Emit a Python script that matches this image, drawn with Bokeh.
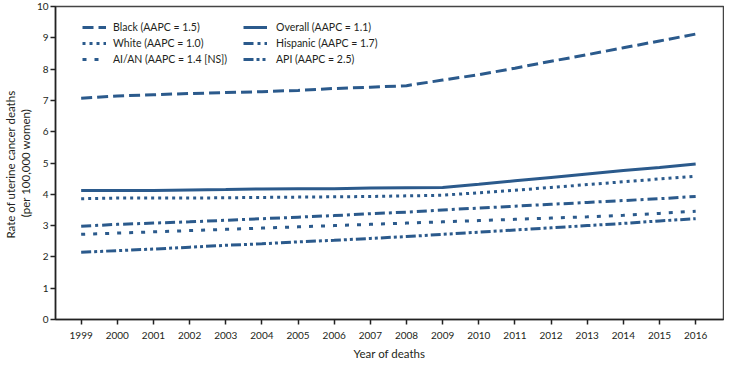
from bokeh.plotting import figure
from bokeh.models import Legend, LegendItem, Range1d, FixedTicker
from bokeh.embed import file_html
from bokeh.resources import INLINE

years = list(range(1999, 2017))
black = [7.07, 7.14, 7.18, 7.22, 7.25, 7.28, 7.32, 7.38, 7.42, 7.47, 7.65, 7.82, 8.03, 8.25, 8.46, 8.68, 8.90, 9.12]
overall = [4.12, 4.12, 4.12, 4.14, 4.15, 4.17, 4.18, 4.18, 4.20, 4.21, 4.22, 4.32, 4.43, 4.54, 4.65, 4.76, 4.86, 4.97]
white = [3.86, 3.88, 3.88, 3.88, 3.89, 3.90, 3.91, 3.92, 3.93, 3.95, 3.97, 4.05, 4.13, 4.22, 4.31, 4.40, 4.49, 4.58]
hispanic = [2.98, 3.04, 3.08, 3.12, 3.17, 3.22, 3.27, 3.32, 3.38, 3.43, 3.50, 3.56, 3.62, 3.68, 3.74, 3.80, 3.86, 3.93]
aian = [2.72, 2.76, 2.80, 2.84, 2.88, 2.92, 2.96, 3.00, 3.04, 3.08, 3.12, 3.16, 3.20, 3.24, 3.28, 3.33, 3.39, 3.46]
api = [2.15, 2.20, 2.25, 2.31, 2.37, 2.42, 2.48, 2.53, 2.59, 2.65, 2.72, 2.79, 2.86, 2.93, 3.00, 3.07, 3.15, 3.22]

labels_col1 = ["Black (AAPC = 1.5)", "White (AAPC = 1.0)", "AI/AN (AAPC = 1.4 [NS])"]
labels_col2 = ["Overall (AAPC = 1.1)", "Hispanic (AAPC = 1.7)", "API (AAPC = 2.5)"]

COLOR = "#2b5a8c"
FONT = "Lato"
TXT = "#231f20"

p = figure(width=724, height=362, output_backend="svg", toolbar_location=None,
           x_range=Range1d(1998.29, 2016.77), y_range=Range1d(0, 10),
           min_border_left=47, min_border_right=1, min_border_top=6, min_border_bottom=43)
p.xgrid.visible = False
p.ygrid.visible = False
p.outline_line_color = "#444444"
p.outline_line_width = 1.5
p.background_fill_color = "white"

for ax in (p.xaxis[0], p.yaxis[0]):
    ax.axis_line_color = "#222222"
    ax.axis_line_width = 1.5
    ax.major_tick_line_color = "#222222"
    ax.major_tick_line_width = 1.5
    ax.major_tick_out = 5
    ax.major_tick_in = 0
    ax.minor_tick_line_color = None
    ax.major_label_text_font = FONT
    ax.major_label_text_font_size = "10px"
    ax.major_label_text_color = TXT
    ax.axis_label_text_font = FONT
    ax.axis_label_text_font_size = "11.5px"
    ax.axis_label_text_font_style = "normal"
    ax.axis_label_text_color = TXT
    ax.axis_label_text_line_height = 1.15

p.xaxis.ticker = FixedTicker(ticks=years)
p.xaxis.major_label_standoff = 7
p.xaxis.axis_label = "Year of deaths"
p.xaxis.axis_label_standoff = 5
p.yaxis.ticker = FixedTicker(ticks=list(range(0, 11)))
p.yaxis.major_label_standoff = 2
p.yaxis.axis_label = "Rate  of uterine cancer deaths\n(per 100,000 women)"
p.yaxis.axis_label_standoff = 2

LW = 3
r_black = p.line(years, black, line_color=COLOR, line_width=LW, line_dash="11 5")
r_white = p.line(years, white, line_color=COLOR, line_width=LW, line_dash="3 4")
r_aian = p.line(years, aian, line_color=COLOR, line_width=LW, line_dash="4 8")
r_overall = p.line(years, overall, line_color=COLOR, line_width=LW)
r_hisp = p.line(years, hispanic, line_color=COLOR, line_width=LW, line_dash="10 4 3 4")
r_api = p.line(years, api, line_color=COLOR, line_width=LW, line_dash="10 3 3 3 3 3")

def make_legend(items, loc, standoff):
    lg = Legend(items=items, location=loc, padding=0, spacing=2, margin=0,
                label_height=14, glyph_height=14, glyph_width=24, label_standoff=standoff,
                label_text_font=FONT, label_text_font_size="10.5px", label_text_color=TXT,
                border_line_color=None, background_fill_alpha=0)
    return lg

leg1 = make_legend([LegendItem(label=labels_col1[0], renderers=[r_black]),
                    LegendItem(label=labels_col1[1], renderers=[r_white]),
                    LegendItem(label=labels_col1[2], renderers=[r_aian])], (27, 253), 7)
leg2 = make_legend([LegendItem(label=labels_col2[0], renderers=[r_overall]),
                    LegendItem(label=labels_col2[1], renderers=[r_hisp]),
                    LegendItem(label=labels_col2[2], renderers=[r_api])], (188, 253), 9)
p.add_layout(leg1, "center")
p.add_layout(leg2, "center")

open("out.html", "w").write(file_html(p, INLINE))
